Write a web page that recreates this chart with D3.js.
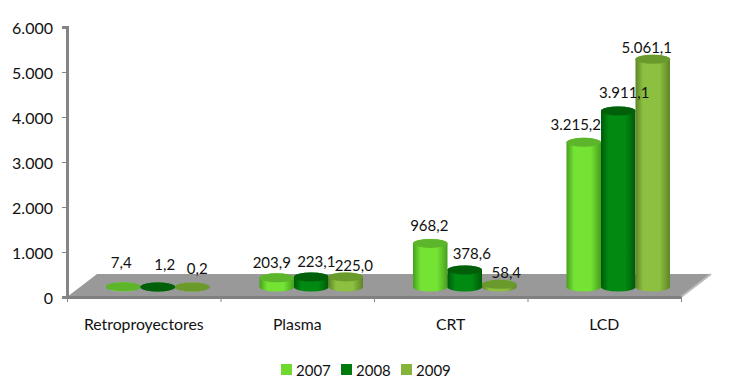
<!DOCTYPE html>
<html>
<head>
<meta charset="utf-8">
<script src="https://cdn.jsdelivr.net/npm/d3@7"></script>
<style>
  html, body { margin: 0; background: #fff; }
  text { font-family: Lato, "Open Sans", sans-serif; fill: #111; }
</style>
</head>
<body>
<div class="canvas"></div>
<script>
const categories = ["Retroproyectores", "Plasma", "CRT", "LCD"];
const years = ["2007", "2008", "2009"];
const values2007 = [7.4, 203.9, 968.2, 3215.2];
const values2008 = [1.2, 223.1, 378.6, 3911.1];
const values2009 = [0.2, 225.0, 58.4, 5061.1];
const yTicks = [0, 1000, 2000, 3000, 4000, 5000, 6000];

// labels in the original are placed by hand, so nudge them per series
const labelDx = [[-2, -5, -1, -8], [7, 5, 7, 6], [5, 8, 7, -6]];
const labelDy = [[-25, -16, -18, -18], [-23, -16, -17, -19], [-19, -12, -12, -12]];

const colours = [
  { legend: "#6fd92f", top: "#5cb52a", edge: "#46a01c", mid: "#74e334" },
  { legend: "#007a0c", top: "#005f08", edge: "#005a08", mid: "#008a12" },
  { legend: "#84b53a", top: "#6a9a2c", edge: "#5f8427", mid: "#8dc040" }
];

const dims = { left: 67, right: 681, top: 27, bottom: 297 };
const depth = { x: 30, y: 23 }; // floor skew
const barShift = { x: 14, y: -10 }; // cylinders stand in the middle of the floor
const ry = 4.5;

const svg = d3.select(".canvas").append("svg").attr("width", 736).attr("height", 380);

const x0 = d3.scaleBand().domain(categories).range([dims.left, dims.right]);
const x1 = d3.scaleBand().domain(years).range([25, x0.bandwidth() - 25]);
const y = d3.scaleLinear().domain([0, 6000]).range([dims.bottom, dims.top]);
const locale = d3.formatLocale({ decimal: ",", thousands: ".", grouping: [3], currency: ["", ""] });

// gradients, one per series
const defs = svg.append("defs");
colours.forEach((c, i) => {
  const grad = defs.append("linearGradient").attr("id", `cyl${i}`);
  grad.append("stop").attr("offset", "0%").attr("stop-color", c.edge);
  grad.append("stop").attr("offset", "22%").attr("stop-color", c.mid);
  grad.append("stop").attr("offset", "70%").attr("stop-color", c.mid);
  grad.append("stop").attr("offset", "100%").attr("stop-color", c.edge);
});

// floor
svg.append("path")
  .attr("d", d3.line()([
    [dims.left, dims.bottom],
    [dims.left + depth.x, dims.bottom - depth.y],
    [dims.right + depth.x, dims.bottom - depth.y],
    [dims.right, dims.bottom]
  ]))
  .attr("fill", "#999")
  .attr("stroke", "none");

svg.append("path")
  .attr("d", d3.line()([
    [dims.right, dims.bottom],
    [dims.right + depth.x, dims.bottom - depth.y]
  ]))
  .attr("fill", "none")
  .attr("stroke", "#bbb")
  .attr("stroke-width", 2);

// axes
const yAxis = d3.axisLeft(y)
  .tickValues(yTicks)
  .tickSize(5)
  .tickPadding(9)
  .tickFormat(locale.format(",.0f"));

const yGroup = svg.append("g").attr("transform", `translate(${dims.left},0)`).call(yAxis);
yGroup.selectAll("text").attr("font-size", 16).attr("dy", "0.42em").style("fill", "#111");
yGroup.select(".domain").attr("stroke", "#858585").attr("stroke-width", 3);
yGroup.selectAll("line").attr("stroke", "#858585");

const edgeScale = d3.scaleLinear().domain([0, 4]).range([dims.left, dims.right]);
const xEdges = d3.axisBottom(edgeScale).ticks(4).tickSize(5).tickSizeOuter(0).tickFormat("");
const xGroup = svg.append("g").attr("transform", `translate(0,${dims.bottom})`).call(xEdges);
xGroup.select(".domain").attr("stroke", "#808080").attr("stroke-width", 3);
xGroup.selectAll("line").attr("stroke", "#858585");

const xLabels = d3.axisBottom(x0).tickSize(0).tickPadding(22);
const labelGroup = svg.append("g").attr("transform", `translate(0,${dims.bottom})`).call(xLabels);
labelGroup.select(".domain").remove();
labelGroup.selectAll("text").attr("font-size", 15.8).style("fill", "#111");

// cylinders
const rows = [values2007, values2008, values2009];
const rx = x1.bandwidth() / 2;

const cylinderBody = (cx, topY, baseY) =>
  `M${cx - rx},${topY}L${cx - rx},${baseY}` +
  `A${rx},${ry} 0 0 0 ${cx + rx},${baseY}` +
  `L${cx + rx},${topY}` +
  `A${rx},${ry} 0 0 0 ${cx - rx},${topY}Z`;

const bars = categories.flatMap((cat, c) =>
  years.map((year, s) => ({ cat, c, year, s, value: rows[s][c] }))
);

const barX = d => x0(d.cat) + x1(d.year) + rx + barShift.x;
const barTop = d => y(d.value) + barShift.y;
const baseY = y(0) + barShift.y;

const cyl = svg.selectAll("g.cyl").data(bars).join("g").attr("class", "cyl");

cyl.append("path")
  .attr("d", d => cylinderBody(barX(d), barTop(d), baseY))
  .attr("fill", d => `url(#cyl${d.s})`);

cyl.append("ellipse")
  .attr("cx", barX)
  .attr("cy", barTop)
  .attr("rx", rx)
  .attr("ry", ry)
  .attr("fill", d => colours[d.s].top);

// value labels go on top of every cylinder
svg.selectAll("text.value").data(bars).join("text")
  .attr("class", "value")
  .attr("x", d => barX(d) + labelDx[d.s][d.c])
  .attr("y", d => barTop(d) + labelDy[d.s][d.c])
  .attr("text-anchor", "middle")
  .attr("dominant-baseline", "central")
  .attr("font-size", 15)
  .text(d => locale.format(",.1f")(d.value));

// legend
const legendX = d3.scalePoint().domain(years).range([281, 401]);
const legend = svg.selectAll("g.legend").data(years).join("g")
  .attr("class", "legend")
  .attr("transform", d => `translate(${legendX(d)},364)`);

legend.append("rect")
  .attr("width", 11)
  .attr("height", 11)
  .attr("fill", (d, i) => colours[i].legend);

legend.append("text")
  .attr("x", 15)
  .attr("y", 6)
  .attr("dominant-baseline", "central")
  .attr("font-size", 15)
  .text(d => d);
</script>
</body>
</html>
